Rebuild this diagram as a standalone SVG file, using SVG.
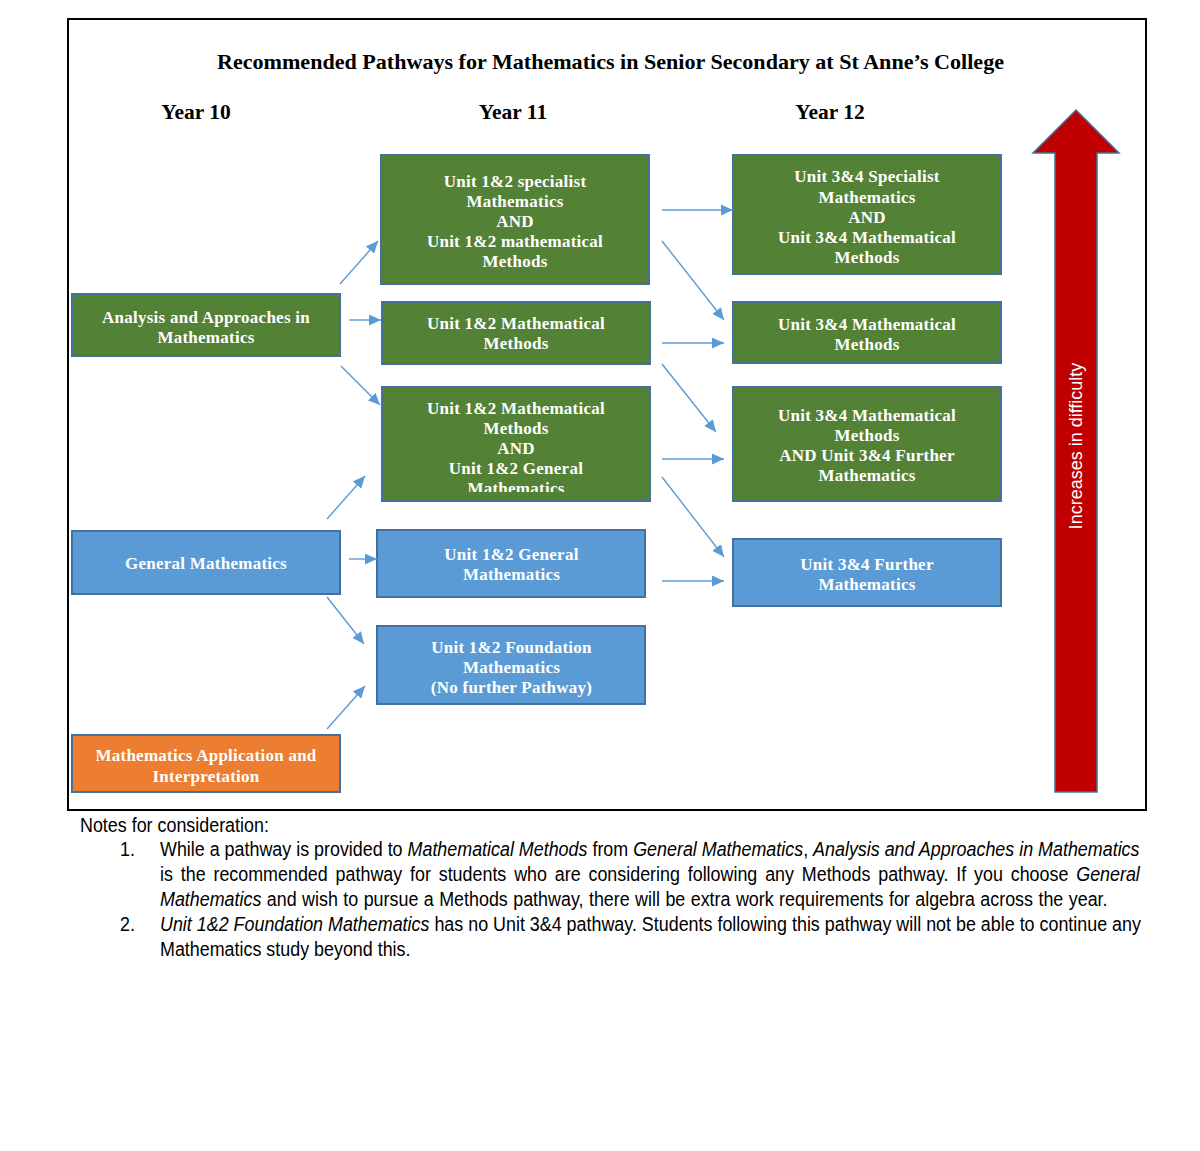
<svg xmlns="http://www.w3.org/2000/svg" width="1200" height="1151" viewBox="0 0 1200 1151">
<style>
.box{stroke:#41719C;stroke-width:2}
.g{fill:#538135}.b{fill:#5B9BD5}.o{fill:#ED7D31}
.bt{font-family:"Liberation Serif","Times New Roman",serif;font-weight:bold;font-size:17px;fill:#fff;text-anchor:middle;letter-spacing:0.25px}
.hd{font-family:"Liberation Serif","Times New Roman",serif;font-weight:bold;font-size:21.5px;fill:#000;text-anchor:middle}
.cn line{stroke:#5B9BD5;stroke-width:1.4;marker-end:url(#ah)}
.nt{font-family:"Liberation Sans",Arial,sans-serif;font-size:21px;fill:#000}
.it{font-style:italic}
</style>
<defs>
<marker id="ah" markerUnits="userSpaceOnUse" viewBox="0 0 12 11" markerWidth="12" markerHeight="11" refX="12" refY="5.5" orient="auto">
<path d="M0,0 L12,5.5 L0,11 z" fill="#5B9BD5"/>
</marker>
<clipPath id="c3"><rect x="382" y="387" width="268" height="105"/></clipPath>
</defs>
<rect x="68" y="19" width="1078" height="791" fill="#fff" stroke="#000" stroke-width="2"/>
<text class="hd" x="610.5" y="69" font-size="21" textLength="787" lengthAdjust="spacingAndGlyphs">Recommended Pathways for Mathematics in Senior Secondary at St Anne’s College</text>
<text class="hd" x="196" y="119">Year 10</text>
<text class="hd" x="513" y="119">Year 11</text>
<text class="hd" x="830" y="119">Year 12</text>

<g id="analysis"><rect class="box g" x="72" y="294" width="268" height="62"/>
<text class="bt" x="206" y="322.5">Analysis and Approaches in</text><text class="bt" x="206" y="342.5">Mathematics</text></g>
<g id="general"><rect class="box b" x="72" y="531" width="268" height="63"/>
<text class="bt" x="206" y="569">General Mathematics</text></g>
<g id="mai"><rect class="box o" x="72" y="735" width="268" height="57"/>
<text class="bt" x="206" y="761">Mathematics Application and</text><text class="bt" x="206" y="781.5">Interpretation</text></g>

<g id="y11a"><rect class="box g" x="381" y="155" width="268" height="129"/>
<text class="bt" x="515" y="186.5">Unit 1&amp;2 specialist</text><text class="bt" x="515" y="206.5">Mathematics</text><text class="bt" x="515" y="226.5">AND</text><text class="bt" x="515" y="246.5">Unit 1&amp;2 mathematical</text><text class="bt" x="515" y="266.5">Methods</text></g>
<g id="y11b"><rect class="box g" x="382" y="302" width="268" height="62"/>
<text class="bt" x="516" y="328.5">Unit 1&amp;2 Mathematical</text><text class="bt" x="516" y="348.5">Methods</text></g>
<g id="y11c"><rect class="box g" x="382" y="387" width="268" height="114"/>
<g clip-path="url(#c3)"><text class="bt" x="516" y="413.5">Unit 1&amp;2 Mathematical</text><text class="bt" x="516" y="433.5">Methods</text><text class="bt" x="516" y="453.5">AND</text><text class="bt" x="516" y="473.5">Unit 1&amp;2 General</text><text class="bt" x="516" y="493.5">Mathematics</text></g></g>
<g id="y11d"><rect class="box b" x="377" y="530" width="268" height="67"/>
<text class="bt" x="511.5" y="560">Unit 1&amp;2 General</text><text class="bt" x="511.5" y="580">Mathematics</text></g>
<g id="y11e"><rect class="box b" x="377" y="626" width="268" height="78"/>
<text class="bt" x="511.5" y="652.5">Unit 1&amp;2 Foundation</text><text class="bt" x="511.5" y="672.5">Mathematics</text><text class="bt" x="511.5" y="692.5">(No further Pathway)</text></g>

<g id="y12a"><rect class="box g" x="733" y="155" width="268" height="119"/>
<text class="bt" x="867" y="182">Unit 3&amp;4 Specialist</text><text class="bt" x="867" y="202.5">Mathematics</text><text class="bt" x="867" y="222.5">AND</text><text class="bt" x="867" y="242.5">Unit 3&amp;4 Mathematical</text><text class="bt" x="867" y="262.5">Methods</text></g>
<g id="y12b"><rect class="box g" x="733" y="302" width="268" height="61"/>
<text class="bt" x="867" y="330">Unit 3&amp;4 Mathematical</text><text class="bt" x="867" y="350">Methods</text></g>
<g id="y12c"><rect class="box g" x="733" y="387" width="268" height="114"/>
<text class="bt" x="867" y="421">Unit 3&amp;4 Mathematical</text><text class="bt" x="867" y="441">Methods</text><text class="bt" x="867" y="461">AND Unit 3&amp;4 Further</text><text class="bt" x="867" y="481">Mathematics</text></g>
<g id="y12d"><rect class="box b" x="733" y="539" width="268" height="67"/>
<text class="bt" x="867" y="570">Unit 3&amp;4 Further</text><text class="bt" x="867" y="590">Mathematics</text></g>

<g id="connectors" class="cn">
<line x1="340" y1="284" x2="378" y2="241"/>
<line x1="349" y1="320" x2="381" y2="320"/>
<line x1="341" y1="366" x2="380" y2="405"/>
<line x1="327" y1="519" x2="365" y2="476"/>
<line x1="349" y1="559" x2="377" y2="559"/>
<line x1="327" y1="597" x2="364" y2="644"/>
<line x1="327" y1="729" x2="365" y2="686"/>
<line x1="662" y1="210" x2="733" y2="210"/>
<line x1="662" y1="241" x2="724" y2="320"/>
<line x1="662" y1="343" x2="724" y2="343"/>
<line x1="662" y1="364" x2="716" y2="432"/>
<line x1="662" y1="459" x2="724" y2="459"/>
<line x1="662" y1="477" x2="724" y2="557"/>
<line x1="662" y1="581" x2="724" y2="581"/>
</g>

<g id="difficulty">
<polygon points="1076,110 1119,153 1097,153 1097,792 1055,792 1055,153 1033,153" fill="#C00000" stroke="#41719C" stroke-width="1.5"/>
<text transform="translate(1082,446) rotate(-90)" font-family="Liberation Sans, Arial, sans-serif" font-size="18" fill="#fff" text-anchor="middle">Increases in difficulty</text>
</g>

<g id="notes" transform="scale(0.852,1)">
<text class="nt" x="93.9" y="832">Notes for consideration:</text>
<text class="nt" x="140.8" y="856">1.</text>
<text class="nt" x="187.8" y="856">While a pathway is provided to <tspan class="it">Mathematical Methods</tspan> from <tspan class="it">General Mathematics</tspan>, <tspan class="it">Analysis and Approaches in Mathematics</tspan></text>
<text class="nt" x="187.8" y="881" word-spacing="3.35">is the recommended pathway for students who are considering following any Methods pathway. If you choose <tspan class="it">General</tspan></text>
<text class="nt" x="187.8" y="906" word-spacing="0.55"><tspan class="it">Mathematics</tspan> and wish to pursue a Methods pathway, there will be extra work requirements for algebra across the year.</text>
<text class="nt" x="140.8" y="931">2.</text>
<text class="nt" x="187.8" y="931"><tspan class="it">Unit 1&amp;2 Foundation Mathematics</tspan> has no Unit 3&amp;4 pathway. Students following this pathway will not be able to continue any</text>
<text class="nt" x="187.8" y="956">Mathematics study beyond this.</text>
</g>
</svg>
